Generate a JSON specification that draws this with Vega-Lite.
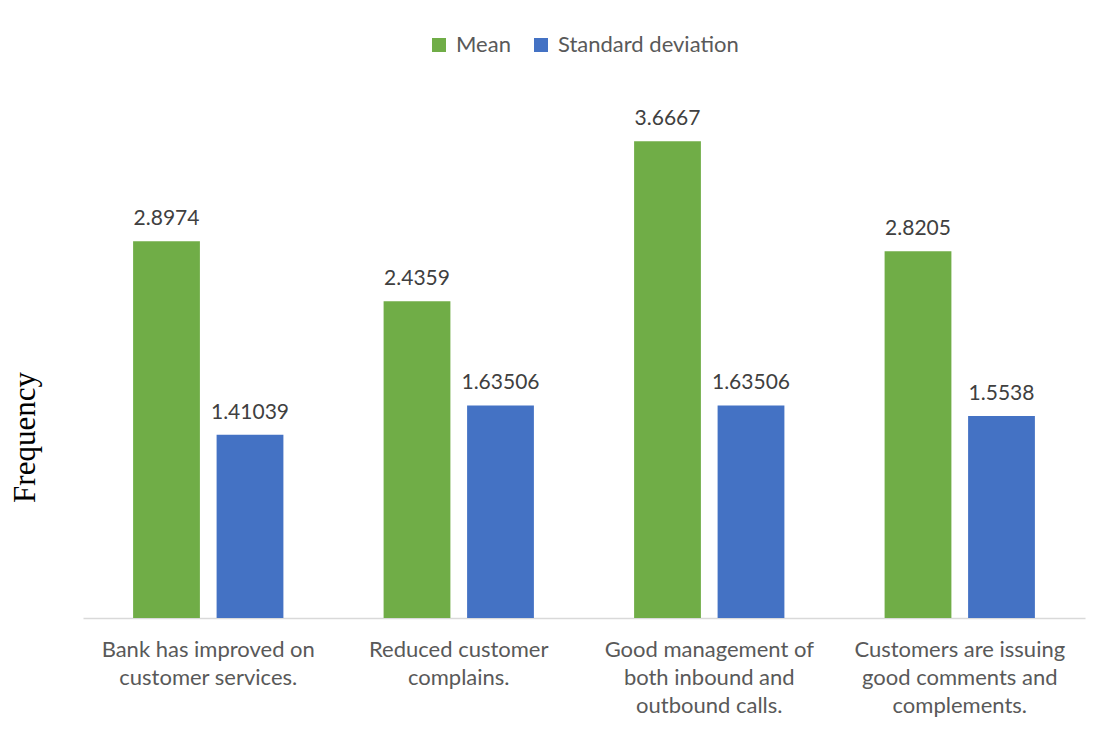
{
  "$schema": "https://vega.github.io/schema/vega-lite/v6.json",
  "width": 1002,
  "height": 520,
  "autosize": {"type": "none"},
  "padding": {"left": 83, "top": 98, "right": 23, "bottom": 118},
  "background": "white",
  "config": {"view": {"stroke": null}, "font": "Lato"},
  "data": {
    "values": [
      {"item": "Bank has improved on|customer services.", "series": "Mean", "value": 2.8974},
      {"item": "Bank has improved on|customer services.", "series": "Standard deviation", "value": 1.41039},
      {"item": "Reduced customer|complains.", "series": "Mean", "value": 2.4359},
      {"item": "Reduced customer|complains.", "series": "Standard deviation", "value": 1.63506},
      {"item": "Good management of|both inbound and|outbound calls.", "series": "Mean", "value": 3.6667},
      {"item": "Good management of|both inbound and|outbound calls.", "series": "Standard deviation", "value": 1.63506},
      {"item": "Customers are issuing|good comments and|complements.", "series": "Mean", "value": 2.8205},
      {"item": "Customers are issuing|good comments and|complements.", "series": "Standard deviation", "value": 1.5538}
    ]
  },
  "encoding": {
    "x": {
      "field": "item",
      "type": "nominal",
      "sort": null,
      "scale": {"paddingInner": 0.4, "paddingOuter": 0.2},
      "axis": {
        "title": null,
        "labelAngle": 0,
        "labelExpr": "split(datum.value, '|')",
        "labelFont": "Lato",
        "labelFontSize": 22,
        "labelColor": "#595959",
        "labelLineHeight": 28,
        "labelPadding": 21,
        "labelBaseline": "top",
        "labelLimit": 400,
        "ticks": false,
        "domainColor": "#d9d9d9",
        "domainWidth": 1.5
      }
    },
    "xOffset": {"field": "series", "type": "nominal", "scale": {"paddingInner": 0.2, "paddingOuter": 0}},
    "y": {
      "field": "value",
      "type": "quantitative",
      "scale": {"domain": [0, 4], "nice": false},
      "axis": {
        "title": "Frequency",
        "labels": false,
        "ticks": false,
        "domain": false,
        "grid": false,
        "titleFont": "Liberation Serif",
        "titleFontSize": 31,
        "titleFontWeight": "normal",
        "titleColor": "#000000",
        "titleX": -49,
        "titleY": 339,
        "titleAngle": -90,
        "titleAlign": "center",
        "titleBaseline": "alphabetic"
      }
    }
  },
  "layer": [
    {
      "mark": {"type": "bar"},
      "encoding": {
        "color": {
          "field": "series",
          "type": "nominal",
          "scale": {"domain": ["Mean", "Standard deviation"], "range": ["#70AD47", "#4472C4"]},
          "legend": {
            "title": null,
            "orient": "none",
            "direction": "horizontal",
            "legendX": 345,
            "legendY": -64,
            "symbolType": "square",
            "symbolSize": 196,
            "symbolStrokeWidth": 0,
            "labelFont": "Lato",
            "labelFontSize": 22,
            "labelColor": "#595959",
            "labelOffset": 6,
            "labelLimit": 300,
            "columnPadding": 19
          }
        }
      }
    },
    {
      "mark": {"type": "text", "baseline": "bottom", "dy": -12, "font": "Lato", "fontSize": 21, "color": "#404040"},
      "encoding": {
        "text": {"field": "value", "type": "nominal"}
      }
    }
  ]
}
